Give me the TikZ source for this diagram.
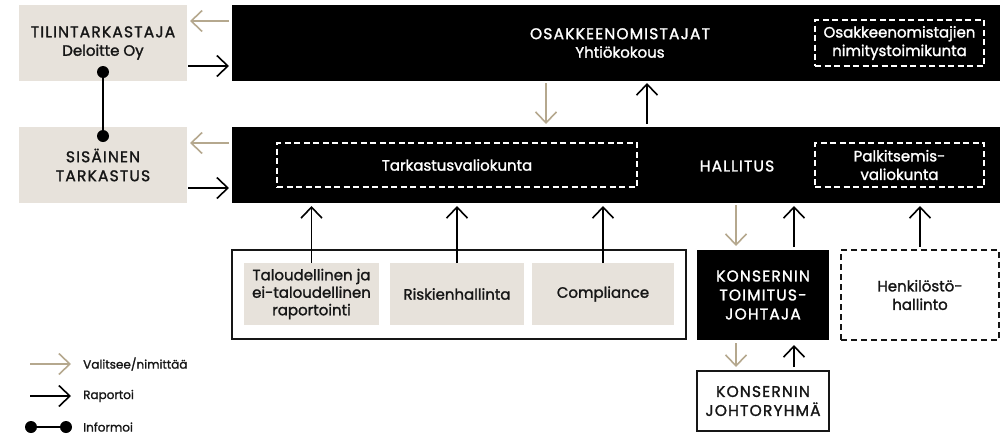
\documentclass[tikz,border=0pt]{standalone}
\usepackage{fontspec}
\setmainfont{Poppins}[FakeBold=1.5]
\newfontfamily\capsfont{Poppins}[FakeBold=1.5, LetterSpace=7.5]
\usetikzlibrary{arrows.meta}
\definecolor{tanc}{RGB}{181,168,142}
\definecolor{greybox}{RGB}{231,226,219}
\definecolor{ink}{RGB}{22,22,22}
\newcommand{\lowf}{\fontsize{15}{18.5}\selectfont}
\newcommand{\capf}{\capsfont\fontsize{15.5}{19}\selectfont}
\begin{document}
\begin{tikzpicture}[x=1pt,y=-1pt,
  box/.style={anchor=north west, inner sep=0pt, outer sep=0pt, align=center, font=\lowf},
  blackbox/.style={box, fill=black, text=white},
  greyb/.style={box, fill=greybox, text=ink},
  wdash/.style={box, draw=white, dash pattern=on 6pt off 3.5pt, line width=1.2pt, text=white},
  bdash/.style={box, draw=ink, dash pattern=on 6pt off 4pt, line width=1.3pt, text=ink},
  wbox/.style={box, draw=ink, fill=white, line width=1.3pt, text=ink},
  lbl/.style={inner sep=0pt, align=center, font=\lowf},
  sel/.style={draw=tanc, line width=1.6pt, -{Straight Barb[length=11pt,width=21pt]}},
  rep/.style={draw=black, line width=1.6pt, -{Straight Barb[length=11pt,width=21pt]}},
  infline/.style={draw=black, line width=1.6pt},
  leg/.style={anchor=west, inner sep=0pt, text=ink, font=\fontsize{12}{14}\selectfont}
]
\useasboundingbox (0,0) rectangle (1000,434);

% top row
\node[greyb, minimum width=168pt, minimum height=76pt] (tili) at (19,5) {{\capf TILINTARKASTAJA}\\Deloitte Oy};
\node[blackbox, minimum width=768pt, minimum height=76pt] (osak) at (232,5) {};
\node[lbl, text=white] (osaktxt) at (620,43) {{\capf OSAKKEENOMISTAJAT}\\Yhtiökokous};
\node[wdash, minimum width=169pt, minimum height=46pt] (nimi) at (815,20) {Osakkeenomistajien\\nimitystoimikunta};

% board row
\node[greyb, minimum width=168pt, minimum height=76pt, font=\capf] (sis) at (19,127) {SISÄINEN\\TARKASTUS};
\node[blackbox, minimum width=768pt, minimum height=76pt] (hall) at (232,127) {};
\node[wdash, minimum width=360pt, minimum height=44pt] (tark) at (277,143) {Tarkastusvaliokunta};
\node[lbl, text=white, font=\capf] (halltxt) at (737,166) {HALLITUS};
\node[wdash, minimum width=169pt, minimum height=44pt] (palk) at (815,143) {Palkitsemis-\\valiokunta};

% lower row
\node[wbox, minimum width=454pt, minimum height=89pt] (outer) at (232,250) {};
\node[greyb, minimum width=135pt, minimum height=62pt, font=\fontsize{15}{17.5}\selectfont] (talo) at (244,263) {Taloudellinen ja\\ei-taloudellinen\\raportointi};
\node[greyb, minimum width=134pt, minimum height=62pt] (risk) at (390,263) {Riskienhallinta};
\node[greyb, minimum width=142pt, minimum height=62pt] (comp) at (532,263) {Compliance};
\node[blackbox, minimum width=132pt, minimum height=90pt, font=\capf] (ceo) at (697,250) {KONSERNIN\\TOIMITUS-\\JOHTAJA};
\node[bdash, minimum width=158pt, minimum height=90pt] (hr) at (841,250) {Henkilöstö-\\hallinto};
\node[wbox, minimum width=132pt, minimum height=60pt, font=\capf] (jr) at (697,371) {KONSERNIN\\JOHTORYHMÄ};

% side arrows
\draw[sel, shorten <=3pt, shorten >=3pt] ([yshift=-16pt]osak.north west) -- ([yshift=-16pt]tili.north east);
\draw[rep, shorten <=1pt, shorten >=3pt] ([yshift=15pt]tili.south east) -- ([yshift=15pt]osak.south west);
\draw[sel, shorten <=3pt, shorten >=3pt] ([yshift=-16pt]hall.north west) -- ([yshift=-16pt]sis.north east);
\draw[rep, shorten <=1pt, shorten >=3pt] ([yshift=15pt]sis.south east) -- ([yshift=15pt]hall.south west);

% informoi
\coordinate (i1) at ([yshift=9pt]tili.south);
\coordinate (i2) at ([yshift=-9pt]sis.north);
\draw[infline] (i1) -- (i2);
\fill[black] (i1) circle[radius=6pt];
\fill[black] (i2) circle[radius=6pt];

% osak <-> hall
\draw[sel, shorten <=2pt, shorten >=3pt] ([xshift=314pt]osak.south west) -- ([xshift=314pt]hall.north west);
\draw[rep, shorten <=3pt, shorten >=2pt] ([xshift=415pt]hall.north west) -- ([xshift=415pt]osak.south west);

% reports to board
\draw[rep, shorten >=3pt] (talo.north) -- (talo.north |- hall.south);
\draw[rep, shorten >=3pt] (risk.north) -- (risk.north |- hall.south);
\draw[rep, shorten >=3pt] (comp.north) -- (comp.north |- hall.south);
\draw[rep, shorten <=3pt, shorten >=3pt] (hr.north) -- (hr.north |- hall.south);

% ceo
\coordinate (c1) at ([xshift=39pt]ceo.north west);
\coordinate (c2) at ([xshift=97pt]ceo.north west);
\coordinate (c3) at ([xshift=39pt]ceo.south west);
\coordinate (c4) at ([xshift=97pt]ceo.south west);
\draw[sel, shorten <=2pt, shorten >=4pt] (c1 |- hall.south) -- (c1);
\draw[rep, shorten <=3pt, shorten >=3pt] (c2) -- (c2 |- hall.south);
\draw[sel, shorten <=3pt, shorten >=4pt] (c3) -- (c3 |- jr.north);
\draw[rep, shorten <=4pt, shorten >=5pt] (c4 |- jr.north) -- (c4);

% legend
\coordinate (la1) at (30,364); \coordinate (la2) at (71,364);
\coordinate (lb1) at (30,396); \coordinate (lb2) at (71,396);
\coordinate (lc1) at (31,427); \coordinate (lc2) at (66,427);
\draw[sel] (la1) -- (la2);
\draw[rep] (lb1) -- (lb2);
\draw[infline] (lc1) -- (lc2);
\fill[black] (lc1) circle[radius=6pt];
\fill[black] (lc2) circle[radius=6pt];
\node[leg] (lta) at (83,364) {Valitsee/nimittää};
\node[leg] (ltb) at (83,396) {Raportoi};
\node[leg] (ltc) at (83,427) {Informoi};
\end{tikzpicture}
\end{document}
